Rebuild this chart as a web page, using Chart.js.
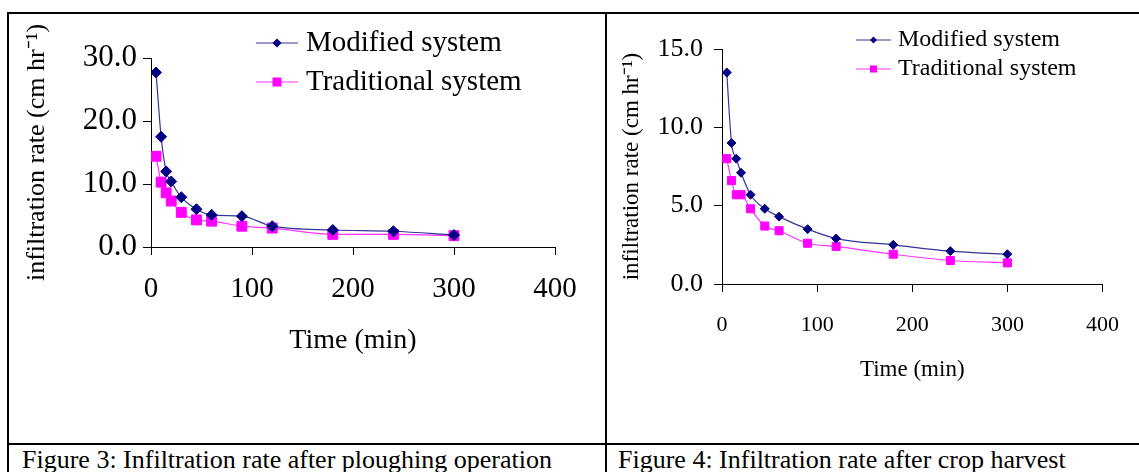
<!DOCTYPE html>
<html>
<head>
<meta charset="utf-8">
<title>Infiltration rate</title>
<script src="https://cdn.jsdelivr.net/npm/chart.js@4/dist/chart.umd.min.js"></script>
<style>
  body { margin: 0; background: #fff; width: 1139px; height: 472px; overflow: hidden; position: relative; font-family: "Liberation Serif", "Times New Roman", serif; }
  canvas { position: absolute; top: 0; }
  #fig3 { left: 0; }
  #fig4 { left: 608px; }
  .rule { position: absolute; background: #000; }
  .caption { position: absolute; top: 447px; font-size: 26px; line-height: 1; color: #000; white-space: nowrap; }
</style>
</head>
<body>
<canvas id="fig3" width="605" height="443"></canvas>
<canvas id="fig4" width="531" height="443"></canvas>

<div class="rule" style="left:7px;top:12px;width:1132px;height:2px"></div>
<div class="rule" style="left:7px;top:12px;width:2px;height:460px"></div>
<div class="rule" style="left:605px;top:12px;width:2px;height:460px"></div>
<div class="rule" style="left:7px;top:443px;width:1132px;height:2px"></div>
<div class="caption" style="left:22px">Figure 3: Infiltration rate after ploughing operation</div>
<div class="caption" style="left:618px">Figure 4: Infiltration rate after crop harvest</div>

<script>
// data
const times = [5, 10, 15, 20, 30, 45, 60, 90, 120, 180, 240, 300];
const fig3Modified = [27.7, 17.5, 12.0, 10.4, 7.9, 6.0, 5.1, 4.9, 3.3, 2.7, 2.5, 1.9];
const fig3Traditional = [14.4, 10.3, 8.6, 7.3, 5.5, 4.3, 4.1, 3.3, 3.0, 2.0, 2.0, 1.8];
const fig4Modified = [13.5, 9.0, 8.0, 7.1, 5.7, 4.8, 4.3, 3.5, 2.9, 2.5, 2.1, 1.9];
const fig4Traditional = [8.0, 6.6, 5.7, 5.7, 4.8, 3.7, 3.4, 2.6, 2.4, 1.9, 1.5, 1.35];
const xTicks = [0, 100, 200, 300, 400];
const fig3YTicks = [0, 10, 20, 30];
const fig4YTicks = [0, 5, 10, 15];
const seriesNames = ['Modified system', 'Traditional system'];
const yTitle = 'infiltration rate (cm hr\u207B\u00B9)';
const xTitle = 'Time (min)';

const SERIF = '"Liberation Serif", "Times New Roman", serif';

// legend with line + marker, drawn inside the plot like the Excel one
const lineLegend = {
  id: 'lineLegend',
  afterDraw(chart, args, opts) {
    const ctx = chart.ctx;
    ctx.save();
    ctx.font = opts.size + 'px ' + SERIF;
    ctx.textBaseline = 'middle';
    chart.data.datasets.forEach((ds, i) => {
      const y = opts.y + i * opts.rowGap;
      const cx = opts.x + opts.lineLength / 2;
      ctx.strokeStyle = ds.borderColor;
      ctx.lineWidth = 1;
      ctx.beginPath();
      ctx.moveTo(opts.x, y);
      ctx.lineTo(opts.x + opts.lineLength, y);
      ctx.stroke();
      ctx.fillStyle = ds.pointBackgroundColor;
      const r = opts.marker;
      ctx.beginPath();
      if (ds.pointStyle === 'rectRot') {
        ctx.moveTo(cx, y - r); ctx.lineTo(cx + r, y); ctx.lineTo(cx, y + r); ctx.lineTo(cx - r, y);
        ctx.closePath();
      } else {
        ctx.rect(cx - r, y - r, 2 * r, 2 * r);
      }
      ctx.fill();
      ctx.fillStyle = '#000';
      ctx.fillText(ds.label, opts.x + opts.lineLength + opts.gap, y);
    });
    ctx.restore();
  }
};

function toPoints(values) {
  return values.map((v, i) => ({ x: times[i], y: v }));
}

function makeChart(id, s) {
  return new Chart(document.getElementById(id), {
    type: 'line',
    data: {
      datasets: [
        {
          label: seriesNames[0],
          data: toPoints(s.modified),
          borderColor: '#34349a',
          borderWidth: 1.2,
          pointStyle: 'rectRot',
          pointRadius: s.diamond,
          pointBackgroundColor: '#000080',
          pointBorderColor: '#000080',
          pointBorderWidth: 1,
          cubicInterpolationMode: 'monotone'
        },
        {
          label: seriesNames[1],
          data: toPoints(s.traditional),
          borderColor: '#ff33ff',
          borderWidth: 1.2,
          pointStyle: 'rect',
          pointRadius: s.square,
          pointBackgroundColor: '#ff00ff',
          pointBorderColor: '#ff00ff',
          pointBorderWidth: 1,
          cubicInterpolationMode: 'monotone'
        }
      ]
    },
    options: {
      responsive: false,
      animation: false,
      devicePixelRatio: 1,
      layout: { padding: s.padding },
      plugins: {
        legend: { display: false },
        tooltip: { enabled: false },
        lineLegend: s.legend
      },
      scales: {
        x: {
          type: 'linear',
          min: 0,
          max: 400,
          afterBuildTicks: sc => { sc.ticks = xTicks.map(v => ({ value: v })); },
          afterFit: sc => { sc.height = s.xHeight; },
          border: { display: true, color: '#000', width: 1 },
          grid: { display: true, drawOnChartArea: false, drawTicks: true, tickLength: 8, color: '#000' },
          ticks: { color: '#000', padding: s.xTickPad, maxRotation: 0, font: { family: SERIF, size: s.xTickSize } },
          title: { display: true, text: xTitle, color: '#000', padding: { top: 0, bottom: s.xTitlePad }, font: { family: SERIF, size: s.xTitleSize } }
        },
        y: {
          min: 0,
          max: s.yMax,
          afterBuildTicks: sc => { sc.ticks = s.yTicks.map(v => ({ value: v })); },
          afterFit: sc => { sc.width = s.yWidth; },
          border: { display: true, color: '#000', width: 1 },
          grid: { display: true, drawOnChartArea: false, drawTicks: true, tickLength: 8, color: '#000' },
          ticks: { color: '#000', padding: s.yTickPad, callback: v => v.toFixed(1), font: { family: SERIF, size: s.yTickSize } },
          title: { display: true, text: yTitle, color: '#000', padding: { top: s.yTitlePad, bottom: 0 }, font: { family: SERIF, size: s.yTitleSize } }
        }
      }
    },
    plugins: [lineLegend]
  });
}

makeChart('fig3', {
  modified: fig3Modified,
  traditional: fig3Traditional,
  yMax: 30,
  yTicks: fig3YTicks,
  diamond: 5.5,
  square: 7,
  padding: { left: 20, top: 58, right: 50, bottom: 0 },
  yWidth: 131,
  xHeight: 196,
  xTickPad: 17, xTickSize: 29,
  xTitlePad: 86, xTitleSize: 28,
  yTickPad: 6, yTickSize: 31,
  yTitlePad: 2, yTitleSize: 26,
  legend: { x: 256, y: 43, rowGap: 39, lineLength: 42, gap: 8, marker: 4.5, size: 29 }
});

makeChart('fig4', {
  modified: fig4Modified,
  traditional: fig4Traditional,
  yMax: 15,
  yTicks: fig4YTicks,
  diamond: 4.5,
  square: 5.7,
  padding: { left: 5, top: 49, right: 25, bottom: 0 },
  yWidth: 109,
  xHeight: 159,
  xTickPad: 20, xTickSize: 22,
  xTitlePad: 59, xTitleSize: 23,
  yTickPad: 11, yTickSize: 26,
  yTitlePad: 5, yTitleSize: 23,
  legend: { x: 248, y: 40, rowGap: 29, lineLength: 35, gap: 7, marker: 3.5, size: 24 }
});
</script>
</body>
</html>
